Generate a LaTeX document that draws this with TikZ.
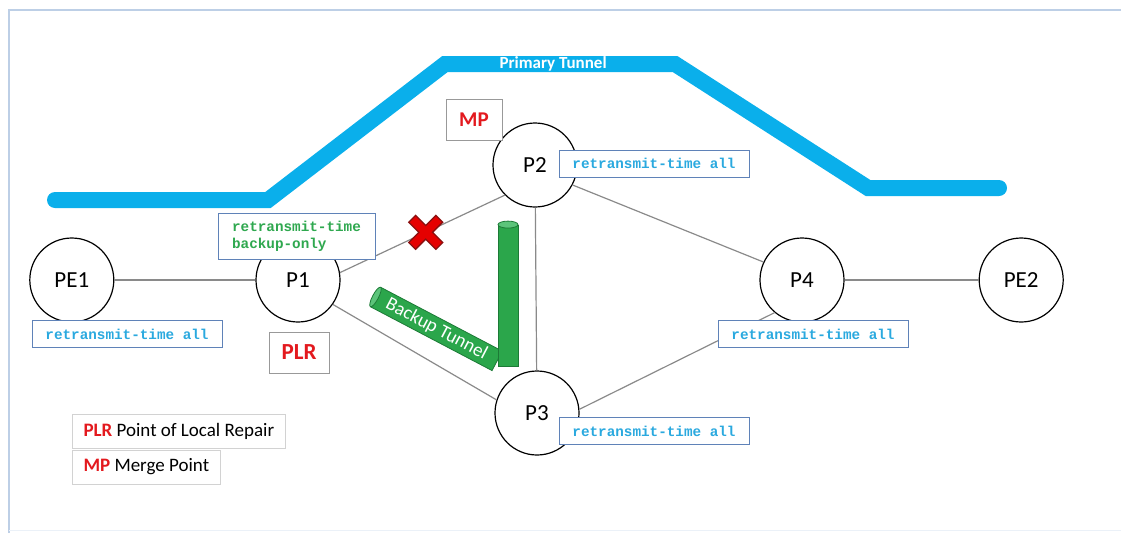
\documentclass[tikz,border=0pt]{standalone}
\usepackage{fontspec}
\setmainfont{Carlito}
\newfontfamily\codefont{Liberation Mono}
\usetikzlibrary{positioning}

\definecolor{tunnelblue}{HTML}{0AAFEB}
\definecolor{rtcyan}{HTML}{2AA9DF}
\definecolor{rtgreen}{HTML}{2FA84F}
\definecolor{boxblue}{HTML}{5F82B8}
\definecolor{tubegreen}{HTML}{2BA64B}
\definecolor{tubedark}{HTML}{1C7A36}
\definecolor{tubelight}{HTML}{5CC47A}
\definecolor{mpred}{HTML}{E3191E}
\definecolor{xdark}{HTML}{8A1010}
\definecolor{framegrey}{HTML}{BDCFE6}
\definecolor{linkgrey}{HTML}{8A8A8A}

\begin{document}
\begin{tikzpicture}[x=1pt,y=-1pt,
  main node/.style={circle,draw,line width=1.2pt,minimum size=84pt,inner sep=0pt,
    font=\fontsize{23}{26}\selectfont},
  link/.style={draw=linkgrey,line width=1.2pt},
  primary/.style={draw=tunnelblue,line width=16pt,line cap=round},
  rt box/.style={draw=boxblue,fill=white,line width=1pt,text=rtcyan,minimum width=190pt,
    minimum height=27pt,inner sep=0pt,font=\codefont\bfseries\fontsize{14.3}{17}\selectfont},
  tag box/.style={draw=gray!80,fill=white,line width=1pt,text=mpred,minimum height=41pt,
    inner sep=0pt,font=\bfseries\fontsize{22}{24}\selectfont},
  key box/.style={draw=gray!35,line width=1pt,minimum height=34pt,inner xsep=11pt,
    inner ysep=0pt,font=\fontsize{19}{21}\selectfont},
  tube/.style={fill=tubegreen,draw=tubedark,line width=0.8pt},
  cut mark/.style={line width=#1,line cap=butt}]

  \useasboundingbox (0,0) rectangle (1121,533);
  \draw[framegrey,line width=1.5pt] (9,533) -- (9,10) -- (1121,10);
  \draw[framegrey!30,line width=1pt] (9,530) -- (1121,530);

  \draw[primary] (55,200) -- (268,200) -- (445,64)
    -- node[pos=.47,text=white,font=\bfseries\fontsize{17}{18}\selectfont] (ptlabel) {Primary Tunnel} (675,64)
    -- (868,188) -- (999,188);

  \node[main node] (P1) at (298,280) {P1};
  \node[main node] (PE1) [left=141pt of P1] {PE1};
  \node[main node] (P2) at (535,165) {P2};
  \node[main node] (P3) at (537,413) {P3};
  \node[main node] (P4) at (802,280) {P4};
  \node[main node] (PE2) [right=134pt of P4] {PE2};

  \path[link]
    (PE1) edge (P1)
    (P1.-35) edge (P3.162)
    (P2) edge (P3)
    (P2.-28) edge (P4.155)
    (P3.5) edge (P4.230)
    (P4) edge (PE2);
  \draw[link] (P1.10) -- coordinate[pos=.52] (cut) (P2.225);

  \draw[xdark,cut mark=11pt]
    ([shift={(-14,-14)}]cut) -- ([shift={(14,14)}]cut)
    ([shift={(-14,14)}]cut) -- ([shift={(14,-14)}]cut);
  \draw[red!90!black,cut mark=8pt]
    ([shift={(-13,-13)}]cut) -- ([shift={(13,13)}]cut)
    ([shift={(-13,13)}]cut) -- ([shift={(13,-13)}]cut);

  \node[tube,rotate=-27.7,minimum width=137pt,minimum height=22pt,inner sep=0pt,text=white,
    font=\fontsize{19}{20}\selectfont] (backup) at (436.5,329) {Backup Tunnel};
  \draw[tube,fill=tubelight,rotate around={-27.7:(backup.west)}] (backup.west) ellipse (3pt and 11pt);
  \node[tube,minimum width=20pt,minimum height=141pt,inner sep=0pt] (upright) at (508,295.5) {};
  \draw[tube,fill=tubelight] (upright.north) ellipse (10pt and 3.5pt);

  \node[rt box] (rtPE1) at (127,334) {retransmit-time all};
  \node[rt box] (rtP2) at (654,163.5) {retransmit-time all};
  \node[rt box] (rtP4) at (813,334) {retransmit-time all};
  \node[rt box] (rtP3) at (654,431) {retransmit-time all};
  \node[rt box,text=rtgreen,minimum width=157pt,minimum height=46pt,align=left]
    (rtP1) at (296.5,236) {retransmit-time\\backup-only};

  \node[tag box,minimum width=56pt,font=\bfseries\fontsize{21}{23}\selectfont] (mp) at (474,119.5) {MP};
  \node[tag box,minimum width=60pt,font=\bfseries\fontsize{23}{25}\selectfont] (plr) at (299,352.5) {PLR};

  \node[key box,anchor=west] (plrkey) at (72,431) {\textcolor{mpred}{\bfseries PLR} Point of Local Repair};
  \node[key box,below right=1pt and 0pt of plrkey.south west] (mpkey) {\textcolor{mpred}{\bfseries MP} Merge Point};

\end{tikzpicture}
\end{document}
